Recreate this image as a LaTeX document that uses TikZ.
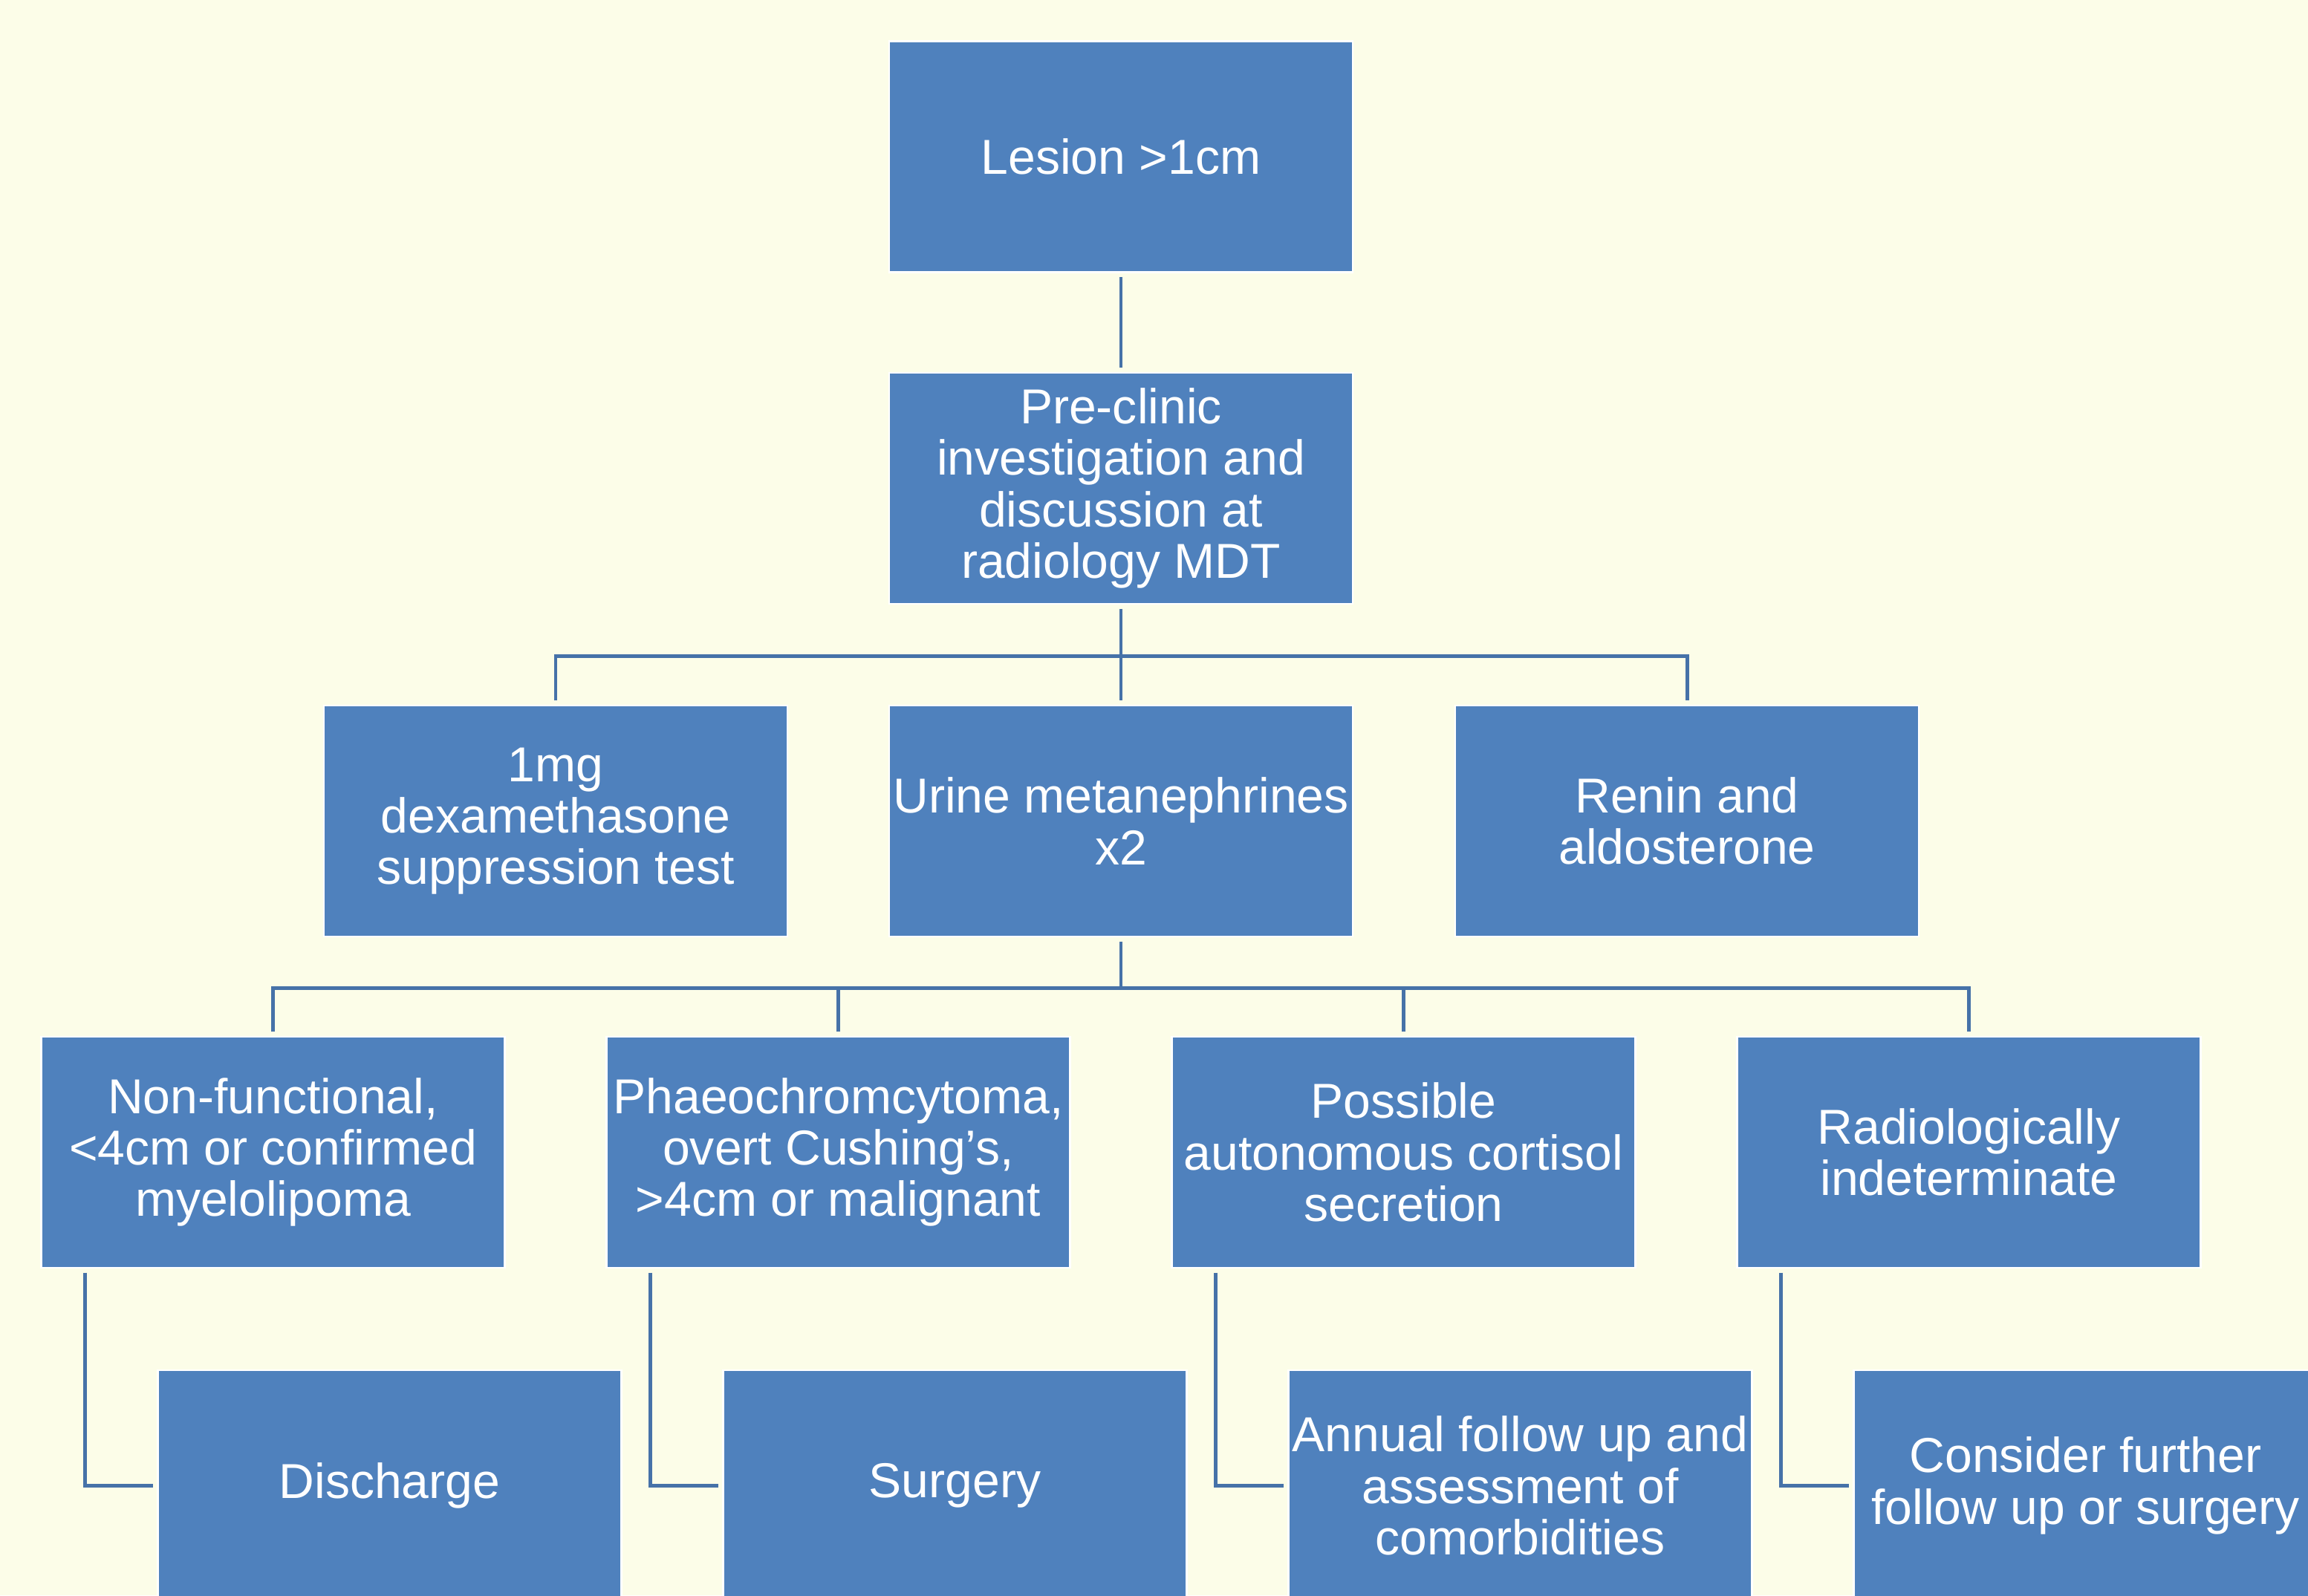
\documentclass[tikz,border=0pt]{standalone}
\usepackage{fontspec}
\setmainfont{Liberation Sans}
\definecolor{cbox}{RGB}{79,129,189}
\definecolor{cline}{RGB}{70,114,168}
\definecolor{cbg}{RGB}{252,253,232}
\tikzset{flowbox/.style={rectangle,fill=cbox,draw=white,line width=0.8pt,minimum width=6.24cm,
    minimum height=3.11cm,inner sep=0pt,text=white,align=center,font=\fontsize{18.8}{19.7}\selectfont},
  link/.style={draw=cline,line width=1.4pt,shorten <=1.5pt,shorten >=1.5pt}}

\begin{document}
\begin{tikzpicture}
    \fill[cbg] (0,0) rectangle (31.07,-21.48);
    \useasboundingbox (0,0) rectangle (31.07,-21.48);
    \def\dx{7.61}\def\sx{1.57}
    \node[flowbox] (lesion)  at (15.09,-2.11)  {Lesion >1cm};
    \node[flowbox] (preclin) at (15.09,-6.575) {Pre-clinic\\investigation and\\discussion at\\radiology MDT};
    % first tests
    \node[flowbox] (dex)   at (7.48,-11.055)  {1mg\\dexamethasone\\suppression test};
    \node[flowbox] (urine) at (15.09,-11.055) {Urine metanephrines\\x2};
    \node[flowbox] (renin) at (22.71,-11.055) {Renin and\\aldosterone};
    % outcomes
    \node[flowbox] (nonfunc)  at (3.675,-15.515)        {Non-functional,\\<4cm or confirmed\\myelolipoma};
    \node[flowbox] (phaeo)    at ({3.675+\dx},-15.515)   {Phaeochromcytoma,\\overt Cushing’s,\\>4cm or malignant};
    \node[flowbox] (cortisol) at ({3.675+2*\dx},-15.515) {Possible\\autonomous cortisol\\secretion};
    \node[flowbox] (indet)    at ({3.675+3*\dx},-15.515) {Radiologically\\indeterminate};
    % management
    \node[flowbox] (discharge) at ({3.675+\sx},-20.005)        {Discharge};
    \node[flowbox] (surgery)   at ({3.675+\dx+\sx},-20.005)    {Surgery};
    \node[flowbox] (annual)    at ({3.675+2*\dx+\sx},-20.005)  {Annual follow up and\\assessment of\\comorbidities};
    \node[flowbox] (consider)  at ({3.675+3*\dx+\sx},-20.005)  {Consider further\\follow up or surgery};
    \draw[link] (lesion) -- (preclin);
    \path (preclin.south) ++(0,-0.69) coordinate (bus1);
    \path (urine.south) ++(0,-0.68) coordinate (bus2);
    \draw[link,shorten >=0pt] (preclin.south) -- (bus1);
    \draw[link] (dex.north) |- (bus1) -| (renin.north);
    \draw[link,shorten <=0pt] (bus1) -- (urine.north);
    \draw[link,shorten >=0pt] (urine.south) -- (bus2);
    \draw[link] (nonfunc.north) |- (bus2) -| (indet.north);
    \foreach \b in {phaeo,cortisol} \draw[link,shorten >=0pt] (\b.north) |- (bus2);
    \foreach \a/\b in {nonfunc/discharge,phaeo/surgery,cortisol/annual,indet/consider}
      \draw[link] ([xshift=0.6cm]\a.south west) |- (\b.west);
\end{tikzpicture}
\end{document}
